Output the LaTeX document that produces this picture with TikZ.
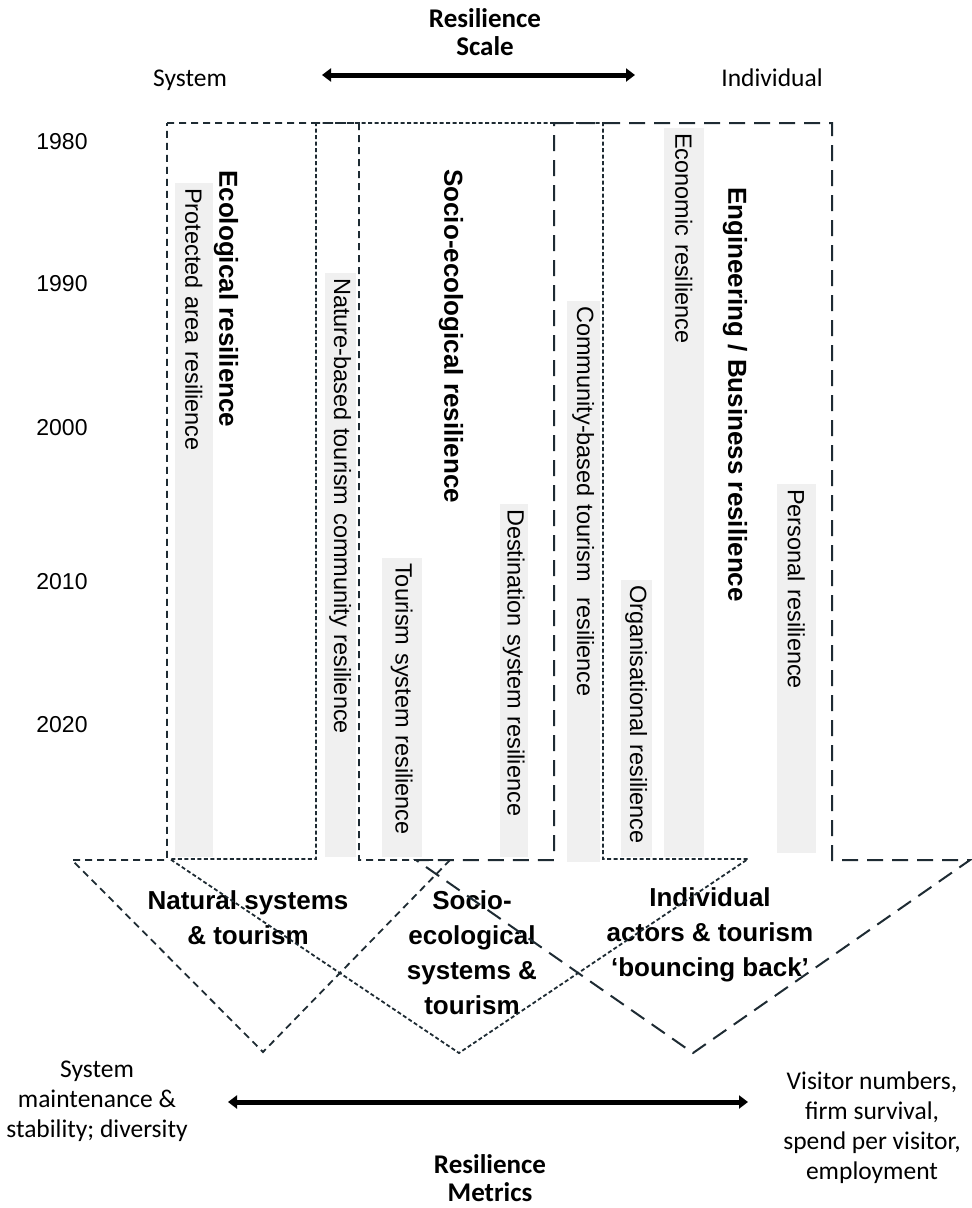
\documentclass[tikz,border=0pt]{standalone}
\usepackage{fontspec}
\setmainfont{Liberation Sans}
\newfontfamily\narrowfont{Carlito}
\usetikzlibrary{arrows.meta}

\definecolor{edgeSlate}{HTML}{1E2B33}
\definecolor{barGrey}{HTML}{F0F0F0}

\begin{document}
\begin{tikzpicture}[x=1pt,y=-1pt,
    bar/.style={fill=barGrey,rotate=-90,anchor=north west,inner xsep=5pt,inner ysep=0pt,
      align=left,font=\fontsize{23.5}{26}\selectfont},
    theme/.style={rotate=-90,anchor=west,inner sep=0pt,font=\bfseries\fontsize{26}{30}\selectfont},
    group/.style={align=center,inner sep=0pt,font=\bfseries\fontsize{26}{35}\selectfont},
    year/.style={font=\fontsize{23}{26}\selectfont},
    plain/.style={align=center,font=\narrowfont\fontsize{25.5}{30}\selectfont},
    title/.style={align=center,font=\narrowfont\bfseries\fontsize{27}{28.5}\selectfont},
    scalearrow/.style={{Triangle[length=9pt,width=13pt]}-{Triangle[length=9pt,width=13pt]},line width=5pt},
    ecoline/.style={edgeSlate,line width=1.8pt,dash pattern=on 7pt off 5pt},
    socioline/.style={edgeSlate,line width=1.8pt,dash pattern=on 4pt off 2.5pt},
    indivline/.style={edgeSlate,line width=2pt,dash pattern=on 16pt off 9pt}]

    \useasboundingbox (0,0) rectangle (972,1208);

    % --------------------------------------------------------- %
    % ------------- scale at the top
    % --------------------------------------------------------- %
    \node[title] (scaleTitle) at (485,32) {Resilience\\Scale};
    \node[plain,anchor=base] (system) at (190,86) {System};
    \node[plain,anchor=base] (individual) at (772,86) {Individual};
    \coordinate (scaleL) at (322,75);
    \coordinate (scaleR) at (635,75);
    \draw[scalearrow] (scaleL) -- (scaleR);

    % years
    \foreach \yr/\ypos in {1980/142,1990/284,2000/428,2010/582,2020/725}
      \node[year] (y\yr) at (62,\ypos) {\yr};

    % --------------------------------------------------------- %
    % ------------- grey bars (start of each field)
    % --------------------------------------------------------- %
    \node[bar,minimum height=38pt,text width=664pt] (protected) at (213,183) {Protected area resilience};
    \node[bar,minimum height=31pt,text width=574pt] (nature) at (356,273) {Nature-based tourism community resilience};
    \node[bar,minimum height=40pt,text width=289pt] (tourism) at (422,558) {Tourism system resilience};
    \node[bar,minimum height=28pt,text width=343pt] (destination) at (528,504) {Destination system resilience};
    \node[bar,minimum height=33pt,text width=551pt] (community) at (600,301) {Community-based tourism\ \ resilience};
    \node[bar,minimum height=31pt,text width=267pt] (organisation) at (652,580) {Organisational resilience};
    \node[bar,minimum height=40pt,text width=719pt] (economic) at (704,128) {Economic resilience};
    \node[bar,minimum height=39pt,text width=359pt] (personal) at (816,484) {Personal resilience};

    % bold headings
    \node[theme] (ecoTheme) at (226,170) {Ecological resilience};
    \node[theme] (socioTheme) at (451,169) {Socio-ecological resilience};
    \node[theme] (engTheme) at (735,187) {Engineering / Business resilience};

    % --------------------------------------------------------- %
    % ------------- groups in the arrow heads
    % --------------------------------------------------------- %
    \node[group] (naturalGroup) at (248,918) {Natural systems\\\& tourism};
    \node[group] (socioGroup) at (472,953) {Socio-\\ecological\\systems \&\\tourism};
    \node[group] (indivGroup) at (710,935) {Individual\\actors \& tourism\\‘bouncing back’};

    % the three arrows
    \draw[ecoline] (167,123) -- (359,123) -- (359,860) -- (450,860) -- (263,1052) -- (72,860) -- (167,860) -- cycle;
    \draw[socioline] (316,123) -- (603,123) -- (603,859) -- (748,859) -- (459,1053) -- (170,859) -- (316,859) -- cycle;
    \draw[indivline] (554,123) -- (832,123) -- (832,860) -- (970,860) -- (693,1053) -- (416,860) -- (554,860) -- cycle;

    % --------------------------------------------------------- %
    % ------------- metrics at the bottom
    % --------------------------------------------------------- %
    \node[plain] (stabilityText) at (97,1101) {System\\maintenance \&\\stability; diversity};
    \node[plain] (visitorText) at (872,1128) {Visitor numbers,\\firm survival,\\spend per visitor,\\employment};
    \coordinate (metricL) at (228,1102);
    \coordinate (metricR) at (748,1102);
    \draw[scalearrow] (metricL) -- (metricR);
    \node[title] (metricTitle) at (490,1178) {Resilience\\Metrics};

  \end{tikzpicture}
\end{document}
